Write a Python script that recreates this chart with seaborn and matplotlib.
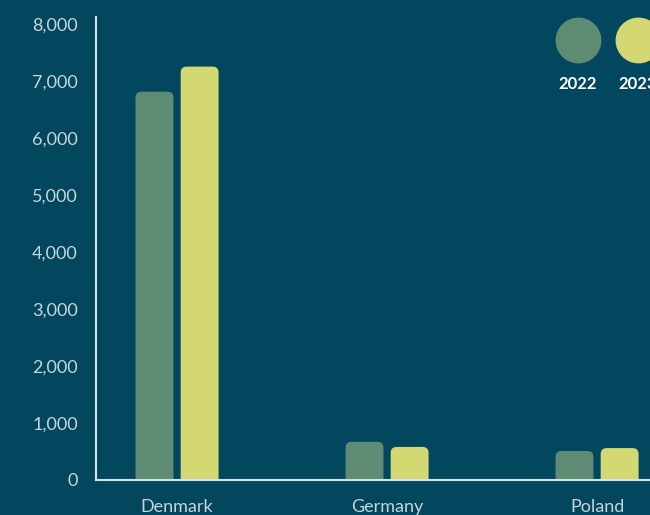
import pandas as pd
import matplotlib.pyplot as plt
import seaborn as sns
from matplotlib.patches import FancyBboxPatch

countries = ["Denmark", "Germany", "Poland"]
years = ["2022", "2023"]
values_2022 = [6810, 670, 510]
values_2023 = [7250, 580, 560]
yticks = [0, 1000, 2000, 3000, 4000, 5000, 6000, 7000, 8000]

bg = "#02475e"
colors = ["#5e8b73", "#d4d872"]
txt = "#c5d5dc"

df = pd.DataFrame({
    "Country": countries * 2,
    "Year": [years[0]] * 3 + [years[1]] * 3,
    "Value": values_2022 + values_2023,
})

sns.set_style("white")
plt.rcParams["font.family"] = ["Lato", "DejaVu Sans"]

fig = plt.figure(figsize=(6.5, 5.15), dpi=100, facecolor=bg)
# axes runs off the right edge, like the original crop
ax = fig.add_axes([96 / 650, 35 / 515, 630 / 650, 463 / 515])
ax.set_facecolor(bg)

sns.barplot(data=df, x="Country", y="Value", hue="Year", palette=colors,
            saturation=1, width=0.43, gap=0.16, legend=False, ax=ax)

ax.set_xlim(-0.386, 2.614)
ax.set_ylim(0, 8120)

# swap plain bars for ones with rounded tops (bottom corners hidden below 0)
px_x = 1 / 210
px_y = 8120 / 463
for p in list(ax.patches):
    x, w, h = p.get_x(), p.get_width(), p.get_height()
    fc = p.get_facecolor()
    p.remove()
    rb = FancyBboxPatch((x, -300), w, h + 300,
                        boxstyle=f"round,pad=0,rounding_size={6 * px_x}",
                        mutation_aspect=px_y / px_x,
                        facecolor=fc, edgecolor="none", clip_on=True)
    ax.add_patch(rb)

ax.set_yticks(yticks)
ax.set_yticklabels([f"{v:,}" for v in yticks])
ax.tick_params(axis="y", length=0, pad=13, labelsize=13, labelcolor=txt)
ax.tick_params(axis="x", length=0, pad=14, labelsize=13, labelcolor=txt)
ax.set_xlabel("")
ax.set_ylabel("")

for s in ["top", "right"]:
    ax.spines[s].set_visible(False)
for s in ["left", "bottom"]:
    ax.spines[s].set_color("#d5e2e7")
    ax.spines[s].set_linewidth(1.5)

# legend: circles with year labels under them
for i, (yr, c) in enumerate(zip(years, colors)):
    cx = (578 + 60 * i) / 650
    fig.add_artist(plt.Line2D([cx], [1 - 40 / 515], marker="o", markersize=32,
                              color=c, linestyle="none", transform=fig.transFigure))
    fig.text(cx, 1 - 84 / 515, yr, ha="center", va="center", color="white",
             fontsize=12, fontweight="bold")

fig.savefig("out.png", dpi=100, facecolor=bg)
